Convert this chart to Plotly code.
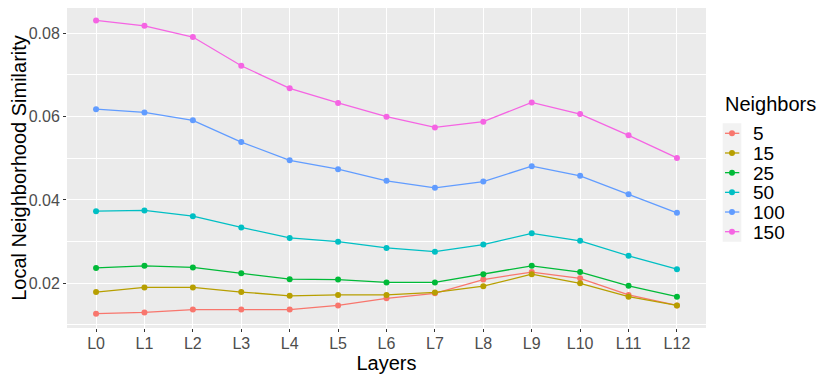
import plotly.graph_objects as go

# Data
LAYERS = [f"L{i}" for i in range(13)]
NEIGHBORS = ["5", "15", "25", "50", "100", "150"]
COLORS = ["#F8766D", "#B79F00", "#00BA38", "#00BFC4", "#619CFF", "#F564E3"]

sim_5 = [0.0127, 0.0130, 0.0137, 0.0137, 0.0137, 0.0147, 0.0164, 0.0176, 0.0209, 0.0227, 0.0212, 0.0172, 0.0147]
sim_15 = [0.0179, 0.0190, 0.0190, 0.0179, 0.0170, 0.0172, 0.0172, 0.0178, 0.0193, 0.0222, 0.0200, 0.0168, 0.0147]
sim_25 = [0.0237, 0.0242, 0.0238, 0.0224, 0.0210, 0.0209, 0.0202, 0.0202, 0.0222, 0.0242, 0.0227, 0.0194, 0.0168]
sim_50 = [0.0373, 0.0375, 0.0361, 0.0334, 0.0309, 0.0300, 0.0285, 0.0276, 0.0293, 0.0320, 0.0302, 0.0266, 0.0234]
sim_100 = [0.0618, 0.0610, 0.0591, 0.0539, 0.0495, 0.0474, 0.0446, 0.0429, 0.0444, 0.0481, 0.0458, 0.0414, 0.0369]
sim_150 = [0.0831, 0.0818, 0.0791, 0.0722, 0.0668, 0.0633, 0.0600, 0.0574, 0.0588, 0.0634, 0.0606, 0.0555, 0.0501]

SERIES = [sim_5, sim_15, sim_25, sim_50, sim_100, sim_150]

FONT = "Liberation Sans, Arial, sans-serif"
PANEL_BG = "#EBEBEB"

# figure geometry (page body adds an 8px offset)
W, H = 822, 370
ML, MR, MT, MB = 59, 124, 0, 50
PW, PH = W - ML - MR, H - MT - MB


def px(x):
    return (x - ML) / PW


def py(y):
    return (H - MB - y) / PH


fig = go.Figure()
for name, vals, color in zip(NEIGHBORS, SERIES, COLORS):
    fig.add_trace(go.Scatter(
        x=LAYERS, y=vals,
        mode="lines+markers",
        name=name,
        line=dict(color=color, width=1.3),
        marker=dict(color=color, size=6),
        showlegend=False,
    ))

# ggplot-style legend: title, grey key panel, keys and labels
fig.add_shape(type="rect", xref="paper", yref="paper",
              x0=px(714.7), x1=px(733.3), y0=py(233.7), y1=py(115.3),
              fillcolor="#F2F2F2", line=dict(width=0), layer="below")
fig.add_annotation(text="Neighbors", xref="paper", yref="paper",
                   x=px(715), y=py(96), xanchor="left", yanchor="middle",
                   showarrow=False, font=dict(size=20, color="black"))
for i, (name, color) in enumerate(zip(NEIGHBORS, COLORS)):
    yk = 125.3 + i * 19.68
    fig.add_shape(type="line", xref="paper", yref="paper",
                  x0=px(717), x1=px(731.3), y0=py(yk), y1=py(yk),
                  line=dict(color=color, width=1.3))
    fig.add_shape(type="circle", xref="paper", yref="paper",
                  x0=px(721), x1=px(727), y0=py(yk + 3), y1=py(yk - 3),
                  fillcolor=color, line=dict(width=0))
    fig.add_annotation(text=name, xref="paper", yref="paper",
                       x=px(742.5), y=py(yk), xanchor="left", yanchor="middle",
                       height=18, showarrow=False,
                       font=dict(size=19, color="black"))

fig.update_layout(
    width=W, height=H,
    margin=dict(l=ML, r=MR, t=MT, b=MB),
    paper_bgcolor="white",
    plot_bgcolor=PANEL_BG,
    font=dict(family=FONT, color="black"),
    showlegend=False,
    xaxis=dict(
        title=dict(text="Layers", font=dict(size=20, color="black"), standoff=0),
        type="category",
        categoryorder="array", categoryarray=LAYERS,
        range=[-0.6, 12.6],
        showgrid=True, gridcolor="white", gridwidth=1.2,
        ticks="outside", ticklen=3, tickcolor="#333333",
        ticklabelstandoff=-2,
        tickfont=dict(size=16, color="#4D4D4D"),
        zeroline=False, showline=False,
    ),
    yaxis=dict(
        title=dict(text="Local Neighborhood Similarity", font=dict(size=20, color="black"), standoff=6),
        range=[0.00927, 0.08607],
        tick0=0, dtick=0.02,
        tickformat=".2f",
        showgrid=True, gridcolor="white", gridwidth=1.2,
        minor=dict(dtick=0.01, tick0=0, showgrid=True, gridcolor="white", gridwidth=0.6),
        ticks="outside", ticklen=3, tickcolor="#333333",
        tickfont=dict(size=16, color="#4D4D4D"),
        zeroline=False, showline=False,
    ),
)

fig.write_html("out.html")
